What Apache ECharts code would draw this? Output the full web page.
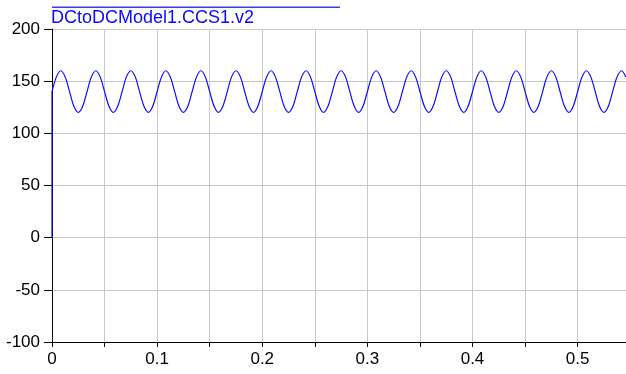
<!DOCTYPE html>
<html>
<head>
<meta charset="utf-8">
<script src="https://cdn.jsdelivr.net/npm/echarts@6/dist/echarts.min.js"></script>
<style>
  html, body { margin: 0; padding: 0; background: #fff; }
  #chart { width: 626px; height: 374px; }
</style>
</head>
<body>
<div id="chart"></div>
<script>
// series name
var seriesName = 'DCtoDCModel1.CCS1.v2';

// start-up jump at t = 0
var jumpTime = [0, 0];
var jumpValue = [0, 140];

var time = [
  0, 0.0042, 0.0083, 0.0125, 0.0167, 0.0208, 0.025, 0.0292,
  0.0333, 0.0375, 0.0417, 0.0458, 0.05, 0.0542, 0.0583, 0.0625,
  0.0667, 0.0708, 0.075, 0.0792, 0.0833, 0.0875, 0.0917, 0.0958,
  0.1, 0.1042, 0.1083, 0.1125, 0.1167, 0.1208, 0.125, 0.1292,
  0.1333, 0.1375, 0.1417, 0.1458, 0.15, 0.1542, 0.1583, 0.1625,
  0.1667, 0.1708, 0.175, 0.1792, 0.1833, 0.1875, 0.1917, 0.1958,
  0.2, 0.2042, 0.2083, 0.2125, 0.2167, 0.2208, 0.225, 0.2292,
  0.2333, 0.2375, 0.2417, 0.2458, 0.25, 0.2542, 0.2583, 0.2625,
  0.2667, 0.2708, 0.275, 0.2792, 0.2833, 0.2875, 0.2917, 0.2958,
  0.3, 0.3042, 0.3083, 0.3125, 0.3167, 0.3208, 0.325, 0.3292,
  0.3333, 0.3375, 0.3417, 0.3458, 0.35, 0.3542, 0.3583, 0.3625,
  0.3667, 0.3708, 0.375, 0.3792, 0.3833, 0.3875, 0.3917, 0.3958,
  0.4, 0.4042, 0.4083, 0.4125, 0.4167, 0.4208, 0.425, 0.4292,
  0.4333, 0.4375, 0.4417, 0.4458, 0.45, 0.4542, 0.4583, 0.4625,
  0.4667, 0.4708, 0.475, 0.4792, 0.4833, 0.4875, 0.4917, 0.4958,
  0.5, 0.5042, 0.5083, 0.5125, 0.5167, 0.5208, 0.525, 0.5292,
  0.5333, 0.5375, 0.5417, 0.5458
];
var voltage = [
  140, 154.1, 160, 154.1, 140, 125.9, 120, 125.9,
  140, 154.1, 160, 154.1, 140, 125.9, 120, 125.9,
  140, 154.1, 160, 154.1, 140, 125.9, 120, 125.9,
  140, 154.1, 160, 154.1, 140, 125.9, 120, 125.9,
  140, 154.1, 160, 154.1, 140, 125.9, 120, 125.9,
  140, 154.1, 160, 154.1, 140, 125.9, 120, 125.9,
  140, 154.1, 160, 154.1, 140, 125.9, 120, 125.9,
  140, 154.1, 160, 154.1, 140, 125.9, 120, 125.9,
  140, 154.1, 160, 154.1, 140, 125.9, 120, 125.9,
  140, 154.1, 160, 154.1, 140, 125.9, 120, 125.9,
  140, 154.1, 160, 154.1, 140, 125.9, 120, 125.9,
  140, 154.1, 160, 154.1, 140, 125.9, 120, 125.9,
  140, 154.1, 160, 154.1, 140, 125.9, 120, 125.9,
  140, 154.1, 160, 154.1, 140, 125.9, 120, 125.9,
  140, 154.1, 160, 154.1, 140, 125.9, 120, 125.9,
  140, 154.1, 160, 154.1, 140, 125.9, 120, 125.9,
  140, 154.1, 160, 154.1
];

function pairs(xs, ys) {
  var out = [];
  for (var i = 0; i < xs.length; i++) out.push([xs[i], ys[i]]);
  return out;
}

var font = '"Liberation Sans", Arial, Helvetica, sans-serif';
var blue = '#0a0aff';

var chart = echarts.init(document.getElementById('chart'), null, { renderer: 'canvas' });
chart.setOption({
  animation: false,
  backgroundColor: '#fff',
  title: {
    text: seriesName,
    left: 51,
    top: 9,
    padding: 0,
    textStyle: { color: blue, fontFamily: font, fontSize: 18, fontWeight: 'normal' }
  },
  // legend swatch line above the name
  graphic: [{
    type: 'rect',
    shape: { x: 52, y: 6.5, width: 288, height: 1.5 },
    style: { fill: '#3a3aff', stroke: null }
  }],
  grid: { left: 52, right: 0, top: 29, bottom: 32, containLabel: false },
  xAxis: {
    type: 'value',
    min: 0,
    max: 0.546,
    interval: 0.05,
    axisLine: { show: true, onZero: false, lineStyle: { color: '#000', width: 1 } },
    axisTick: { show: true, length: 5, lineStyle: { color: '#000' } },
    splitLine: { show: true, lineStyle: { color: '#c8c8c8', width: 1 } },
    axisLabel: {
      color: '#000', fontFamily: font, fontSize: 17, margin: 9,
      showMaxLabel: false,
      formatter: function (v) {
        return Math.round(v * 100) % 10 === 0 ? String(Math.round(v * 10) / 10) : '';
      }
    }
  },
  yAxis: {
    type: 'value',
    min: -100,
    max: 200,
    interval: 50,
    axisLine: { show: true, onZero: false, lineStyle: { color: '#000', width: 1 } },
    axisTick: { show: true, length: 8, lineStyle: { color: '#000' } },
    splitLine: { show: true, lineStyle: { color: '#c8c8c8', width: 1 } },
    axisLabel: { color: '#000', fontFamily: font, fontSize: 17, margin: 12 }
  },
  series: [{
    name: seriesName,
    type: 'line',
    data: pairs(jumpTime, jumpValue),
    showSymbol: false,
    lineStyle: { color: blue, width: 1.2 },
    z: 3
  }, {
    name: seriesName,
    type: 'line',
    data: pairs(time, voltage),
    smooth: 0.33,
    showSymbol: false,
    lineStyle: { color: blue, width: 1.2 },
    z: 3
  }]
});
</script>
</body>
</html>
